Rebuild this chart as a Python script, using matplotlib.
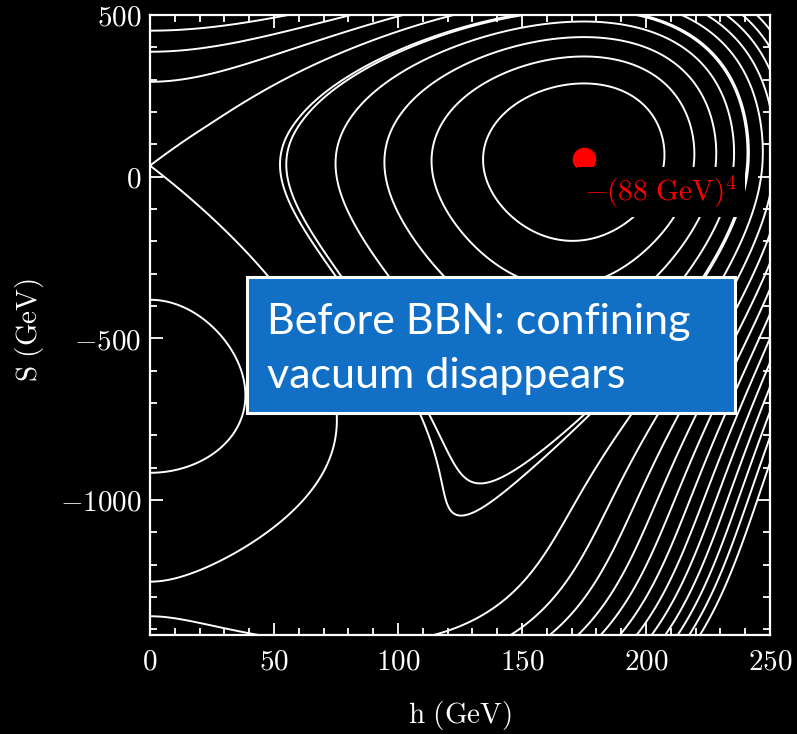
import numpy as np
import matplotlib
matplotlib.use("Agg")
import matplotlib.pyplot as plt
from matplotlib.patches import Rectangle
from matplotlib.ticker import MultipleLocator

plt.rcParams["mathtext.fontset"] = "cm"

# axis ranges (GeV)
h_range = [0, 250]
S_range = [-1418, 500]
x_ticks = [0, 50, 100, 150, 200, 250]
y_ticks = [-1000, -500, 0, 500]

# potential (units: x = h/100, y = S/500)
saddle_S = 34              # saddle point on the h = 0 line
lower_S = [-1253, -1360]   # saddle contour meets h = 0 again here
S_weight = 0.62            # weight of the S-only part
S_tilt = 0.08              # extra growth of the S-only part below S = 0
valley_h = 175             # valley floor near the minimum
bend_S = 55                # valley floor starts bending below this S
bend_size = 0.4456
bend_power = 1.524
bend_width = 0.12
cap_S = 150                # above this S the h = 0 ridge is lowered
cap_depth = 1.9
cap_width = 0.8

levels = [-7.75, -6.2, -4.65, -3.1, -1.75, -1.6, 0.0, 1.55, 3.1, 4.65,
          6.2, 7.75, 9.3, 10.85, 12.4, 13.95, 15.5, 17.05]

vacuum_h, vacuum_S = 175, 55
vacuum_label = r"$-(88\ \mathrm{GeV})^4$"
box_lines = ["Before BBN: confining", "vacuum disappears"]

# grid
h = np.linspace(h_range[0], h_range[1], 800)
S = np.linspace(S_range[0], S_range[1], 1000)
H, SS = np.meshgrid(h, S)
x, y = H / 100, SS / 500

y0 = saddle_S / 500
y1, y2 = [s / 500 for s in lower_S]
A = S_weight * (y - y0) ** 2 * (y - y1) * (y - y2)
A = A * np.exp(-S_tilt * np.minimum(y, 0))
A = A - cap_depth * np.clip(y - cap_S / 500, 0, None) ** 2 \
    * np.exp(-(x / cap_width) ** 2)
d = bend_width * np.log1p(np.exp((bend_S / 500 - y) / bend_width))
xv2 = (valley_h / 100) ** 2 - bend_size * d ** bend_power
V = A - 2 * xv2 * x ** 2 + x ** 4

fig = plt.figure(figsize=(7.97, 7.34), dpi=100, facecolor="black")
ax = fig.add_axes([150 / 797, 99 / 734, 620 / 797, 620 / 734])
ax.set_facecolor("black")

ax.contour(H, SS, V, levels=levels, colors="white", linewidths=1.4,
           linestyles="solid")

ax.plot(vacuum_h, vacuum_S, "o", color="red", ms=16, zorder=5)
ax.text(vacuum_h, vacuum_S - 103, vacuum_label, color="red", fontsize=21,
        ha="left", va="center", zorder=6,
        bbox=dict(facecolor="black", edgecolor="none", pad=5))

ax.set_xlim(h_range)
ax.set_ylim(S_range)

ax.set_xticks(x_ticks)
ax.set_xticklabels([f"${v}$" for v in x_ticks])
ax.set_yticks(y_ticks)
ax.set_yticklabels([f"${v}$" for v in y_ticks])
ax.xaxis.set_minor_locator(MultipleLocator(10))
ax.yaxis.set_minor_locator(MultipleLocator(100))
ax.tick_params(which="both", direction="in", top=True, right=True,
               colors="white", labelsize=21, width=1.3)
ax.tick_params(which="major", length=9)
ax.tick_params(which="minor", length=5)
ax.tick_params(axis="x", pad=9)
ax.tick_params(axis="y", pad=6)
for sp in ax.spines.values():
    sp.set_color("white")
    sp.set_linewidth(1.6)

fig.text(460 / 797, 1 - 715 / 734, r"$\mathrm{h\ (GeV)}$", color="white",
         fontsize=21, ha="center", va="center")
fig.text(29 / 797, 1 - 330 / 734, r"$\mathrm{S\ (GeV)}$", color="white",
         fontsize=21, ha="center", va="center", rotation=90)

# blue call-out box
ax.add_patch(Rectangle((0.156, 0.358), 0.788, 0.219, transform=ax.transAxes,
                       facecolor="#1170C6", edgecolor="white", lw=2.2,
                       zorder=10, clip_on=False))
ax.text(0.189, 0.4855, box_lines[0], transform=ax.transAxes, color="white",
        fontsize=31, family="Lato", ha="left", va="baseline", zorder=11)
ax.text(0.189, 0.398, box_lines[1], transform=ax.transAxes, color="white",
        fontsize=31, family="Lato", ha="left", va="baseline", zorder=11)

fig.savefig("out.png", dpi=100, facecolor="black")
